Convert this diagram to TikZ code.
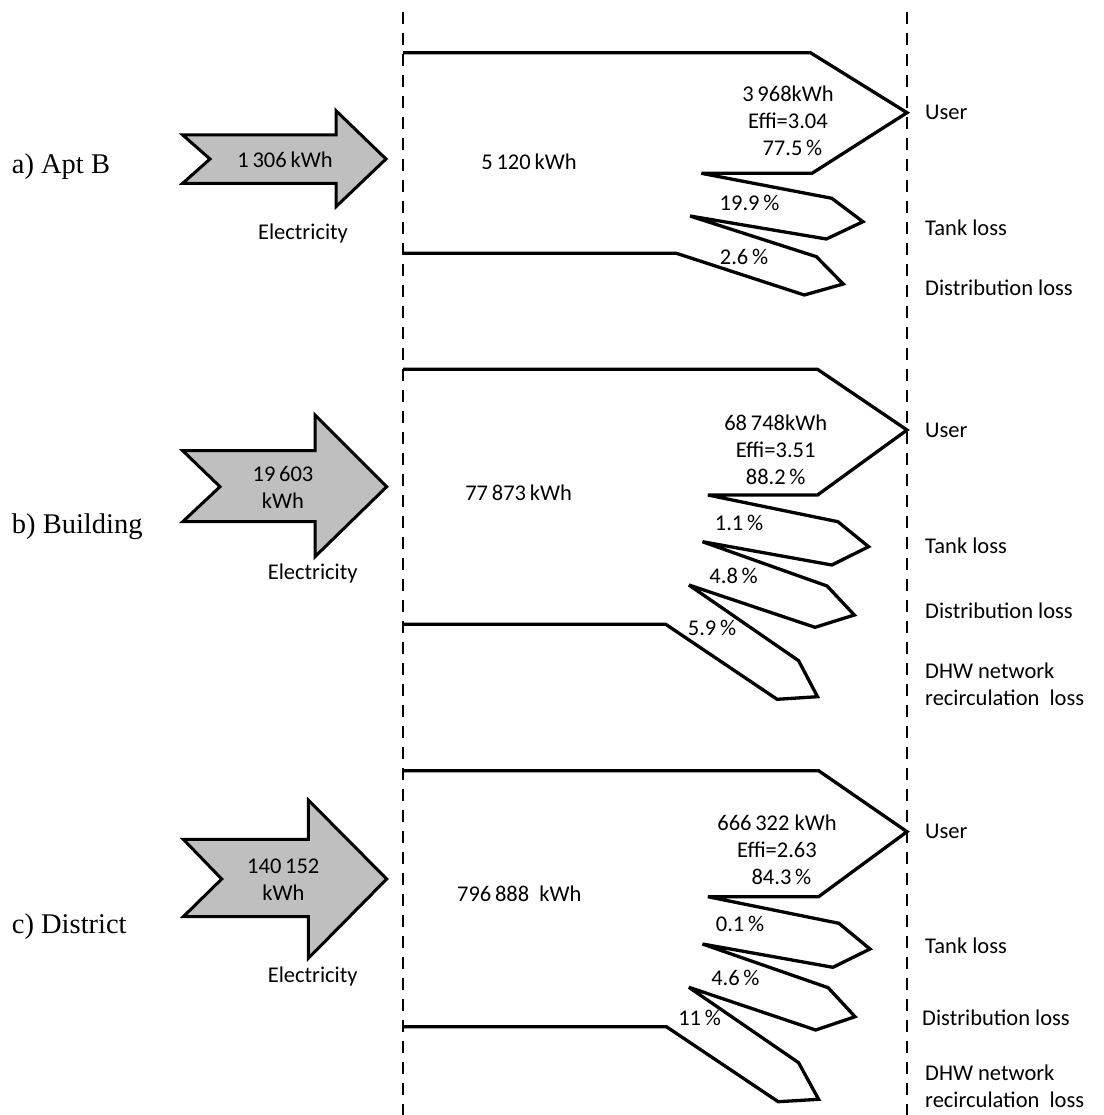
\documentclass[tikz,border=0pt]{standalone}
\usepackage{fontspec}
\setmainfont{Carlito}
\newfontfamily\timesf{Liberation Serif}
\begin{document}
\begin{tikzpicture}[x=1pt,y=-1pt,
  flow/.style={line width=3.3pt,line join=miter,miter limit=3},
  inarrow/.style={draw=black,fill=black!25,line width=3pt,line join=miter},
  divider/.style={line width=2.5pt,dash pattern=on 12pt off 9pt},
  txt/.style={font=\fontsize{22.5}{27}\selectfont,inner sep=0pt,align=center},
  rlab/.style={font=\fontsize{22.5}{27}\selectfont,inner sep=0pt,anchor=west,align=left},
  plab/.style={font=\timesf\fontsize{28.5}{32}\selectfont,inner sep=0pt,anchor=west}]
\useasboundingbox (0,0) rectangle (1103,1115);
% dividers
\draw[divider] (403,12) coordinate (dl1) -- (403,1115) coordinate (dl2);
\draw[divider] (907,12) coordinate (dr1) -- (907,1115) coordinate (dr2);

% ===== panel a =====
\node[plab] (pa) at (11.7,166.7) {a) Apt B};
\draw[inarrow] (182.7,135) -- (336,135) -- (336,110.7) -- (386,159) -- (336,206.7) -- (336,183.3) -- (182.7,183.3) -- (210,159) -- cycle;
\node[txt] (ina) at (285,160) {1\,306\,kWh};
\node[txt] (ela) at (303,234) {Electricity};
\draw[flow] (403,52.7) -- (810.4,52.7) -- (907,112.7) -- (812,173.3) -- (701.4,173.3)
  -- (831.8,198.3) -- (862.9,221.7) -- (826.4,239) -- (690,216)
  -- (816.4,256.7) -- (843.2,284) -- (804.3,295) -- (676.4,253.3) -- (403,253.3);
\node[txt] (ta) at (529,161.7) {5\,120\,kWh};
\node[txt] (ua) at (788,120.7) {3\,968kWh\\Effi=3.04\\\ \,77.5\,\%};
\node[txt] (tka) at (749.6,202.7) {19.9\,\%};
\node[txt] (dsa) at (744,256.7) {2.6\,\%};
\node[rlab] (rua) at (925,112) {User};
\node[rlab] (rta) at (925,227.3) {Tank loss};
\node[rlab] (rda) at (925,287.3) {Distribution loss};

% ===== panel b =====
\node[plab] (pb) at (11.7,526.7) {b) Building};
\draw[inarrow] (182.7,450.7) -- (315,450.7) -- (315,415) -- (386.7,486.7) -- (315,556.7) -- (315,521.7) -- (182.7,521.7) -- (220,486.7) -- cycle;
\node[txt] (inb) at (283,487) {19\,603\\kWh};
\node[txt] (elb) at (312.7,573.3) {Electricity};
\draw[flow] (403,369.3) -- (817.5,369.3) -- (907,430) -- (817.5,495) -- (707.9,495)
  -- (837.9,521.7) -- (868.6,546.7) -- (831.8,565) -- (702.5,541.7)
  -- (827.1,586) -- (854.3,615) -- (815,627.3) -- (688.9,585)
  -- (798.6,660.7) -- (817.5,696.7) -- (777.1,699.3) -- (665.7,624.3) -- (403,624.3);
\node[txt] (tb) at (518.6,492.7) {77\,873\,kWh};
\node[txt] (ub) at (775.7,449.3) {68\,748kWh\\Effi=3.51\\88.2\,\%};
\node[txt] (tkb) at (739,522.7) {1.1\,\%};
\node[txt] (dsb) at (733.6,575.7) {4.8\,\%};
\node[txt] (rcb) at (712,627.7) {5.9\,\%};
\node[rlab] (rub) at (925,430) {User};
\node[rlab] (rtb) at (925,546) {Tank loss};
\node[rlab] (rdb) at (925,610.7) {Distribution loss};
\node[rlab] (rrb) at (925,684.2) {DHW network\\recirculation\ \ loss};

% ===== panel c =====
\node[plab] (pc) at (11.7,926.7) {c) District};
\draw[inarrow] (183.3,839.3) -- (308.3,839.3) -- (308.3,800) -- (386.7,879) -- (308.3,958.3) -- (308.3,916.7) -- (183.3,916.7) -- (221.7,879) -- cycle;
\node[txt] (inc) at (283.3,880) {140\,152\\kWh};
\node[txt] (elc) at (312.7,976) {Electricity};
\draw[flow] (403,770.7) -- (818.6,770.7) -- (907,831.7) -- (818.6,896.7) -- (707.9,896.7)
  -- (838.9,923.3) -- (870,949) -- (832.9,967.3) -- (702.5,944)
  -- (828.2,987.7) -- (855,1016.7) -- (815.7,1030) -- (688.9,987.3)
  -- (798.6,1062.7) -- (818.6,1099.3) -- (778.2,1101.7) -- (666.4,1026.7) -- (403,1026.7);
\node[txt] (tc) at (519.3,894) {796\,888\ \ kWh};
\node[txt] (uc) at (777,850) {666\,322 kWh\\Effi=2.63\\\ \,84.3\,\%};
\node[txt] (tkc) at (740,924) {0.1\,\%};
\node[txt] (dsc) at (735.4,978.3) {4.6\,\%};
\node[txt] (rcc) at (699.6,1018.3) {11\,\%};
\node[rlab] (ruc) at (925,831.7) {User};
\node[rlab] (rtc) at (925,946) {Tank loss};
\node[rlab] (rdc) at (922,1018) {Distribution loss};
\node[rlab] (rrc) at (925,1086) {DHW network\\recirculation\ \ loss};
\end{tikzpicture}
\end{document}
